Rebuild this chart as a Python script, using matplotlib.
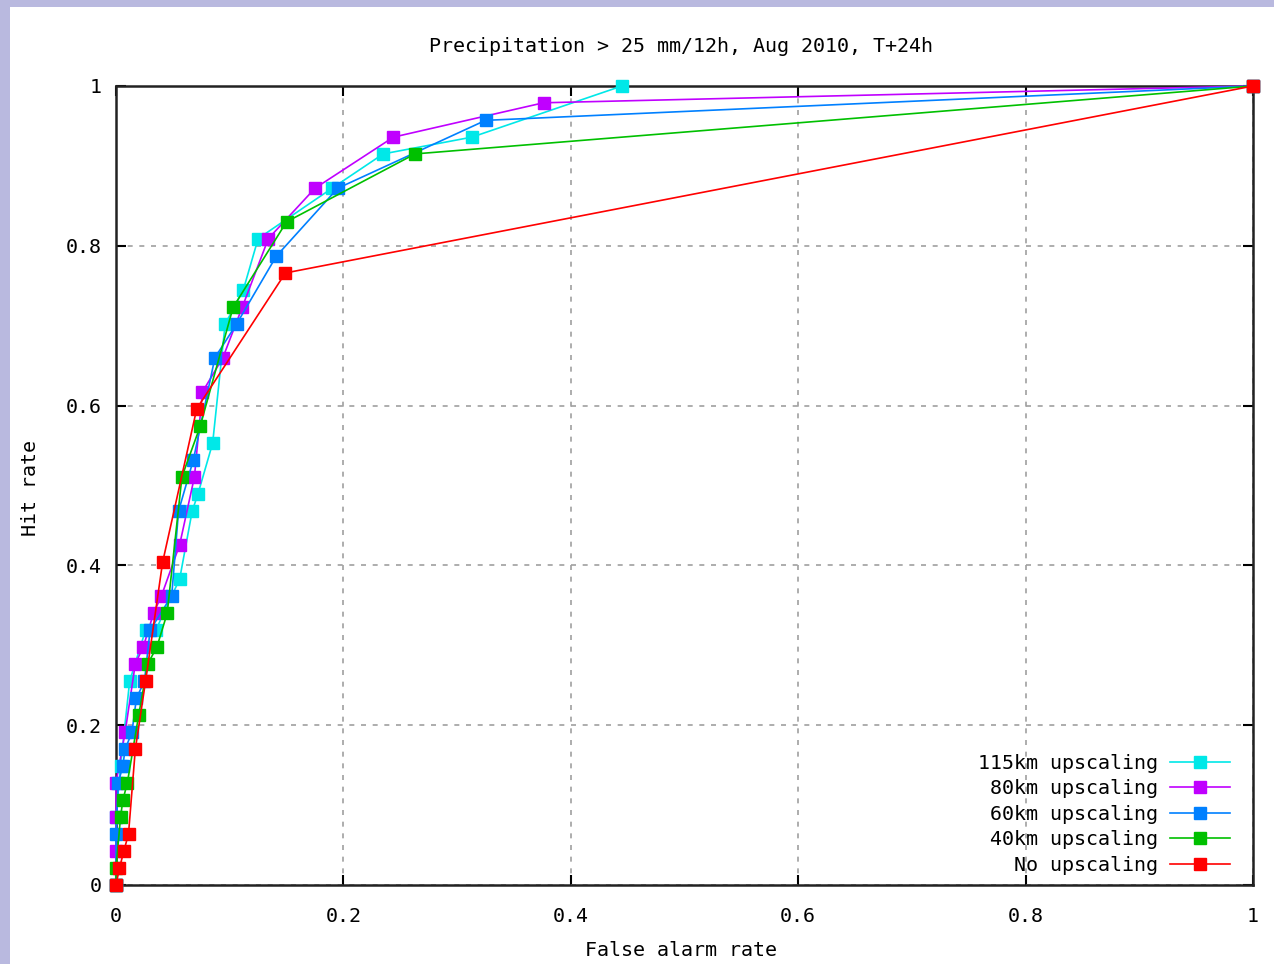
import matplotlib
matplotlib.use("Agg")
import matplotlib.pyplot as plt
from matplotlib.patches import Rectangle

# ROC points (false alarm rate, hit rate)
far_115 = [0.0, 0.0, 0.004, 0.012, 0.026, 0.035, 0.056, 0.067, 0.072, 0.085, 0.096, 0.112, 0.125, 0.190, 0.235, 0.313, 0.445]
hit_115 = [0.0, 0.085, 0.149, 0.255, 0.319, 0.319, 0.383, 0.468, 0.489, 0.553, 0.702, 0.745, 0.809, 0.872, 0.915, 0.936, 1.0]

far_80 = [0.0, 0.0, 0.0, 0.0, 0.008, 0.017, 0.024, 0.033, 0.040, 0.056, 0.069, 0.076, 0.094, 0.111, 0.134, 0.175, 0.244, 0.376, 1.0]
hit_80 = [0.0, 0.043, 0.085, 0.128, 0.191, 0.277, 0.298, 0.340, 0.362, 0.426, 0.511, 0.617, 0.660, 0.723, 0.809, 0.872, 0.936, 0.979, 1.0]

far_60 = [0.0, 0.0, 0.002, 0.006, 0.008, 0.014, 0.018, 0.025, 0.030, 0.049, 0.055, 0.068, 0.087, 0.106, 0.141, 0.195, 0.325, 1.0]
hit_60 = [0.0, 0.064, 0.128, 0.149, 0.170, 0.191, 0.234, 0.255, 0.319, 0.362, 0.468, 0.532, 0.660, 0.702, 0.787, 0.872, 0.957, 1.0]

far_40 = [0.0, 0.0, 0.004, 0.006, 0.010, 0.020, 0.028, 0.036, 0.045, 0.058, 0.074, 0.103, 0.150, 0.263, 1.0]
hit_40 = [0.0, 0.021, 0.085, 0.106, 0.128, 0.213, 0.277, 0.298, 0.340, 0.511, 0.574, 0.723, 0.830, 0.915, 1.0]

far_no = [0.0, 0.003, 0.007, 0.011, 0.017, 0.026, 0.041, 0.071, 0.149, 1.0]
hit_no = [0.0, 0.021, 0.043, 0.064, 0.170, 0.255, 0.404, 0.596, 0.766, 1.0]

labels = ["115km upscaling", "80km upscaling", "60km upscaling", "40km upscaling", "No upscaling"]
colors = ["#00e8e8", "#c000ff", "#0080ff", "#00c000", "#ff0000"]
ticks = [0, 0.2, 0.4, 0.6, 0.8, 1]
tick_labels = ["0", "0.2", "0.4", "0.6", "0.8", "1"]

plt.rcParams["font.family"] = ["DejaVu Sans Mono"]
plt.rcParams["font.size"] = 14.4

W, H = 1274, 964
fig = plt.figure(figsize=(W / 100, H / 100), dpi=100)
fig.patch.set_facecolor("#b9b9df")
# white page, purple strip left and top
fig.patches.append(Rectangle((10 / W, 0), 1, 1 - 7 / H, transform=fig.transFigure,
                             facecolor="white", edgecolor="none", zorder=-5))

ax = fig.add_axes([116 / W, 1 - 885 / H, (1253 - 116) / W, (885 - 86) / H])
ax.set_facecolor("white")

series = [(far_115, hit_115), (far_80, hit_80), (far_60, hit_60), (far_40, hit_40), (far_no, hit_no)]
for (x, y), lab, c in zip(series, labels, colors):
    ax.plot(x, y, color=c, lw=1.2, marker="s", ms=9, mec=c, label=lab, clip_on=False, zorder=3)

ax.set_xlim(0, 1)
ax.set_ylim(0, 1)
ax.set_xticks(ticks)
ax.set_xticklabels(tick_labels)
ax.set_yticks(ticks)
ax.set_yticklabels(tick_labels)
ax.tick_params(direction="in", length=7, width=1.5, top=True, right=True)
ax.tick_params(axis="x", pad=16)
ax.tick_params(axis="y", pad=10)
ax.grid(True, color="#a0a0a0", linestyle=(0, (3, 4)), lw=1.2)
for s in ax.spines.values():
    s.set_linewidth(1.8)
    s.set_color("#222222")

fig.text(681 / W, 1 - 47 / H, "Precipitation > 25 mm/12h, Aug 2010, T+24h", ha="center", va="center")
fig.text(681 / W, 1 - 950 / H, "False alarm rate", ha="center", va="center")
fig.text(31 / W, 1 - 488 / H, "Hit rate", ha="center", va="center", rotation=90)

ax.legend(loc="lower right", bbox_to_anchor=(0.989, 0.0), frameon=False, markerfirst=False,
          handlelength=3.0, handletextpad=0.6, labelspacing=0.33, borderpad=0)

fig.savefig("out.png", dpi=100, facecolor=fig.get_facecolor())
